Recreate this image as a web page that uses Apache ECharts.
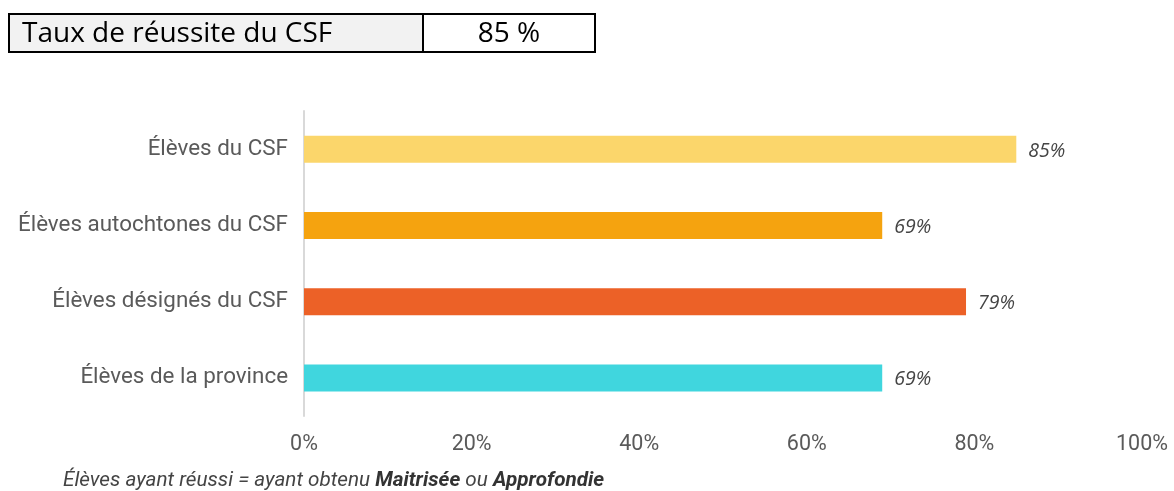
<!DOCTYPE html>
<html><head><meta charset="utf-8">
<script src="https://cdn.jsdelivr.net/npm/echarts@6/dist/echarts.min.js"></script>
<style>html,body{margin:0;padding:0;background:#fff}#c{width:1174px;height:491px}</style>
</head><body><div id="c"></div>
<script>
const categories = ['Élèves du CSF', 'Élèves autochtones du CSF', 'Élèves désignés du CSF', 'Élèves de la province'];
const values = [85, 69, 79, 69];
const barColors = ['#FBD66B', '#F5A30F', '#EC6127', '#40D6DE'];
const tickLabels = ['0%', '20%', '40%', '60%', '80%', '100%'];
const headerLabel = 'Taux de réussite du CSF';
const headerValue = '85 %';

const chart = echarts.init(document.getElementById('c'), null, {renderer: 'canvas'});
chart.setOption({
  animation: false,
  backgroundColor: '#fff',
  grid: {left: 304, right: 32, top: 111, height: 305, containLabel: false},
  xAxis: {
    type: 'value', min: 0, max: 100, interval: 20,
    axisLine: {show: false}, axisTick: {show: false}, splitLine: {show: false},
    axisLabel: {formatter: v => tickLabels[v / 20], color: '#5a5a5a', fontFamily: 'Roboto', fontSize: 21.5, margin: 18}
  },
  yAxis: {
    type: 'category', inverse: true, data: categories,
    axisLine: {show: true, lineStyle: {color: '#d9d9d9', width: 2}},
    axisTick: {show: false},
    axisLabel: {color: '#5a5a5a', fontFamily: 'Roboto', fontSize: 22.4, margin: 16, padding: [4, 0, 0, 0]}
  },
  series: [{
    type: 'bar', barWidth: 27,
    data: values.map((v, i) => ({value: v, itemStyle: {color: barColors[i]}})),
    label: {show: true, position: 'right', distance: 11, offset: [1, 2], formatter: p => p.value + '%',
      color: '#444', fontFamily: 'Open Sans', fontStyle: 'italic', fontSize: 19.5}
  }],
  graphic: [
    {type: 'rect', shape: {x: 9, y: 14, width: 414, height: 38}, style: {fill: '#f2f2f2', stroke: '#000', lineWidth: 2}},
    {type: 'rect', shape: {x: 423, y: 14, width: 172, height: 38}, style: {fill: '#fff', stroke: '#000', lineWidth: 2}},
    {type: 'text', x: 22, y: 34, style: {text: headerLabel, fill: '#000', font: '28px "Open Sans"', verticalAlign: 'middle'}},
    {type: 'text', x: 509, y: 34, style: {text: headerValue, fill: '#000', font: '28px "Open Sans"', align: 'center', verticalAlign: 'middle'}},
    {type: 'text', x: 63, y: 481, style: {
      text: '{i|Élèves ayant réussi = ayant obtenu }{b|Maitrisée}{i| ou }{b|Approfondie}',
      verticalAlign: 'middle',
      rich: {
        i: {fontFamily: 'Roboto', fontStyle: 'italic', fontSize: 20.7, fill: '#444'},
        b: {fontFamily: 'Roboto', fontStyle: 'italic', fontWeight: 'bold', fontSize: 20.7, fill: '#333'}
      }}}
  ]
});
</script></body></html>
